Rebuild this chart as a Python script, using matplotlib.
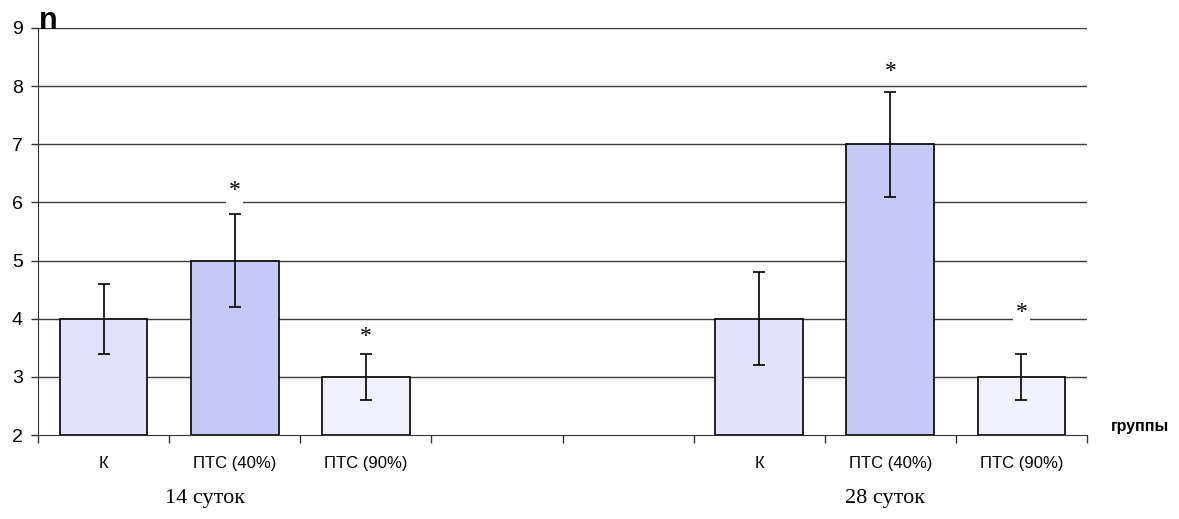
import matplotlib
matplotlib.use("Agg")
import matplotlib.pyplot as plt
import numpy as np

categories = ["К", "ПТС (40%)", "ПТС (90%)", "", "", "К", "ПТС (40%)", "ПТС (90%)"]
values = [4, 5, 3, None, None, 4, 7, 3]
errors = [0.6, 0.8, 0.4, None, None, 0.8, 0.9, 0.4]
star_y = [None, 6.2, 3.7, None, None, None, 8.25, 4.1]
group_labels = ["14 суток", "28 суток"]
yticks = [2, 3, 4, 5, 6, 7, 8, 9]

colors = ["#e2e2fc", "#c8c8f6", "#f0f0fe", None, None, "#e2e2fc", "#c8c8f6", "#f0f0fe"]

fig = plt.figure(figsize=(11.79, 5.19), dpi=100)
ax = fig.add_axes([38/1179, 1-435/519, (1087-38)/1179, (435-28)/519])

ax.set_ylim(2, 9)
ax.set_xlim(0, len(categories))
ax.set_yticks(yticks)
for y in yticks[1:]:
    ax.axhline(y, color="#3a3a3a", lw=1.0, zorder=0)

for i, (v, e) in enumerate(zip(values, errors)):
    if v is None:
        continue
    x = i + 0.5
    ax.bar(x, v - 2, bottom=2, width=0.67, color=colors[i], edgecolor="black", lw=1.2, zorder=2)
    ax.errorbar(x, v, yerr=e, fmt="none", ecolor="black", elinewidth=1.2, capsize=4.5, capthick=1.2, zorder=3)
    if star_y[i] is not None:
        ax.text(x, star_y[i], "*", ha="center", va="center", fontsize=17, family="Liberation Serif",
                bbox=dict(boxstyle="square,pad=0.1", fc="white", ec="none"), zorder=4)

ax.set_xticks(np.arange(len(categories) + 1))
ax.set_xticklabels([])
ax.tick_params(axis="x", direction="out", length=6, width=1, color="#333333")
ax.tick_params(axis="y", direction="out", length=5, width=1, color="#333333", labelsize=14, pad=6)
for lab in ax.get_yticklabels():
    lab.set_family("Liberation Sans")

for s in ["top", "right"]:
    ax.spines[s].set_visible(False)
ax.spines["left"].set_color("#333333")
ax.spines["bottom"].set_color("#333333")

for i, c in enumerate(categories):
    if c:
        ax.text(i + 0.5, 1.51, c, ha="center", va="center", fontsize=12,
                family="Liberation Sans", clip_on=False)

fig.text(205/1179, 1-498/519, group_labels[0], ha="center", va="center", fontsize=16, family="Liberation Serif")
fig.text(885/1179, 1-498/519, group_labels[1], ha="center", va="center", fontsize=16, family="Liberation Serif")
fig.text(1140/1179, 1-427/519, "группы", ha="center", va="center", fontsize=11.5, fontweight="bold", family="Liberation Sans")
fig.text(48/1179, 1-21/519, "n", ha="center", va="center", fontsize=22, fontweight="bold", family="Liberation Sans")

fig.savefig("out.png", dpi=100, facecolor="white")
